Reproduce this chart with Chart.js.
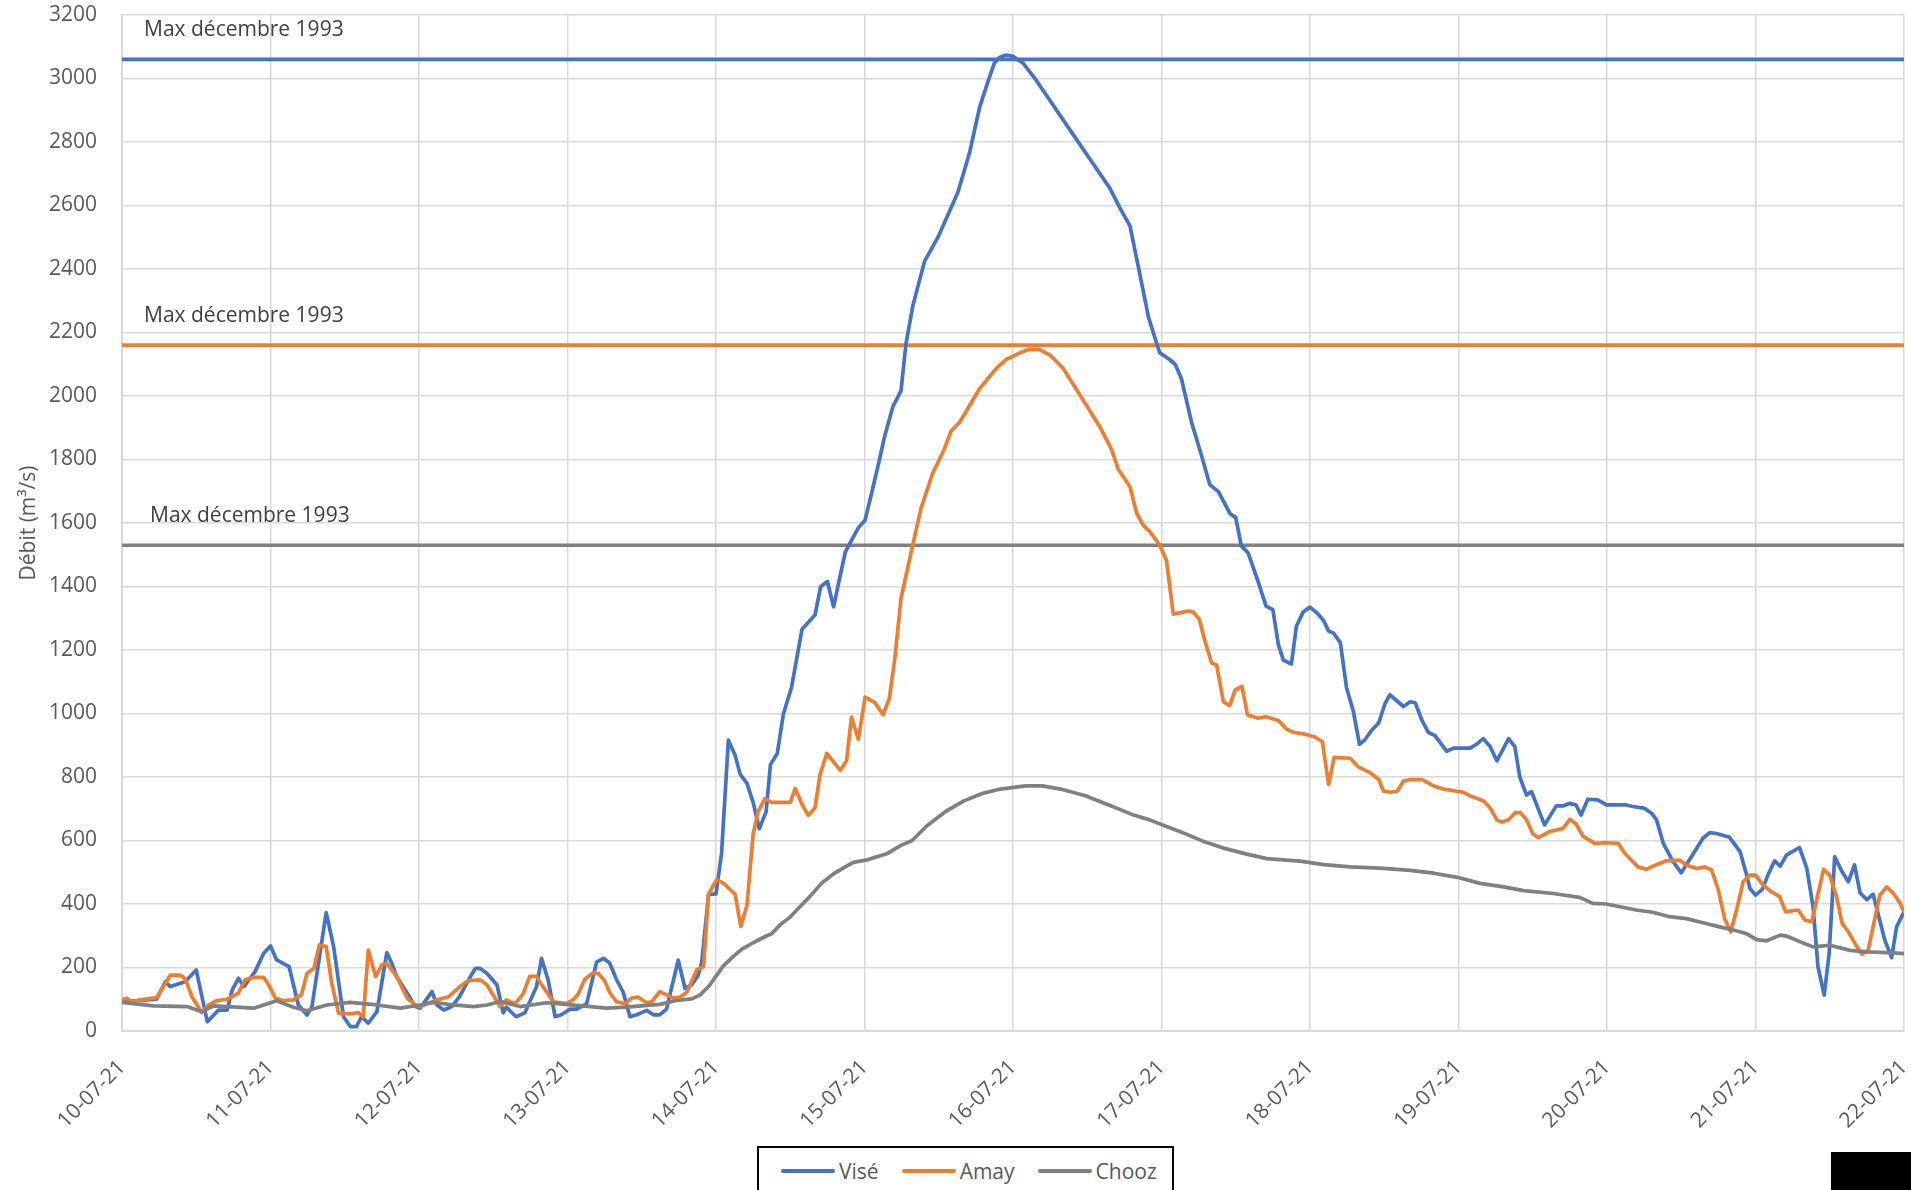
<!DOCTYPE html>
<html lang="fr">
<head>
<meta charset="utf-8">
<title>Débits de la Meuse - juillet 2021</title>
<script src="https://cdn.jsdelivr.net/npm/chart.js@4.4.0/dist/chart.umd.min.js"></script>
<style>
  html, body { margin: 0; padding: 0; background: #fff; overflow: hidden; }
  #wrap { position: relative; width: 1911px; height: 1190px; }
  #legend {
    position: absolute; left: 757px; top: 1146px; width: 417px; height: 70px;
    border: 2px solid #000; box-sizing: border-box; background: #fff;
    display: flex; padding: 8px 0 0 22px; gap: 23px;
    font: 21px "Open Sans", sans-serif; color: #595959;
  }
  .item { display: flex; align-items: center; height: 30px; }
  .swatch { width: 54px; height: 4px; border-radius: 2px; margin-right: 4px; }
  #mask { position: absolute; left: 1831px; top: 1152px; width: 80px; height: 38px; background: #000; }
</style>
</head>
<body>
<div id="wrap">
  <canvas id="chart"></canvas>
  <div id="legend"></div>
  <div id="mask"></div>
</div>
<script>
// x en heures depuis le 10-07-21 00h
const dayLabels = ["10-07-21", "11-07-21", "12-07-21", "13-07-21", "14-07-21", "15-07-21", "16-07-21",
  "17-07-21", "18-07-21", "19-07-21", "20-07-21", "21-07-21", "22-07-21"];

const seriesNames = ["Visé", "Amay", "Chooz"];
const seriesColors = ["#4472C4", "#ED7D31", "#808080"];

// maxima de décembre 1993
const maxLevels = [3060, 2160, 1530];
const maxLabel = "Max décembre 1993";

const viseHours = [
  0, 5.6, 7, 7.8, 10.2, 12, 13.8, 15.6, 17, 17.8, 18.8, 19.7, 21.5, 22.9, 24,
  25, 27, 28.5, 29.9, 30.7, 33, 34.2, 35.8, 36.9, 37.9, 38.7, 39.8, 41.2, 42.8, 43.6, 44.4, 46.1, 47.4,
  48.2, 50.1, 50.9, 52, 53.3, 54.6, 56, 57.1, 57.9, 59, 60.6, 61.6, 62.1, 63.7, 65.1, 67, 67.8, 68.9, 70, 71,
  72.4, 73.5, 75.1, 76.7, 77.8, 78.8, 79.9, 81, 82.1, 83.2, 84.8, 85.9, 86.9, 88, 89.9, 91, 92.1, 93.1, 93.7, 94.8,
  96, 96.9, 98, 99.1, 99.9, 101, 102, 103, 104.1, 104.8, 105.9, 106.9, 108.2, 109.9, 111, 112, 112.9, 114, 115, 116.1, 116.9, 117.7, 119,
  120.1, 121.2, 122.4, 123.2, 124.6, 125.9, 126.7, 127.8, 129.7, 131.9, 135.1, 137, 138.6, 140, 141, 141.8, 142.9,
  144, 145.6, 147.8, 150.5, 153.7, 156.9, 159.6, 161.3, 162.9, 164.3, 165.9, 167.7,
  169.3, 170.2, 171.2, 172.9, 174.5, 175.8, 177.2, 178, 179.1, 180, 180.9, 182, 183.6, 184.9, 186, 186.9, 187.7, 189, 189.8, 190.9,
  192, 193.1, 194.2, 195, 195.8, 196.9, 197.9, 199, 200, 200.9, 202, 203.1, 204.1, 204.9, 207.1, 208.2, 209, 210.1, 211.1, 212.2, 214.1, 215.2,
  217.9, 218.9, 220, 221.1, 222.2, 223.2, 224.1, 225.1, 225.9, 227, 227.8, 229.9, 231.8, 232.9, 234, 235, 235.8, 236.9, 238.5,
  239.9, 243.1, 244.2, 246.1, 247.2, 248, 249.1, 250.7, 252, 253.9, 255.5, 256.6, 257.7, 259.8, 261.5, 262.5,
  263.1, 264, 265.1, 266, 267.1, 268, 269, 271.1, 272.3, 273.3, 274.1, 275.1, 275.9, 276.8, 277.9, 279, 280, 280.9, 282, 283, 284.9, 286, 286.8, 288
];
const viseValues = [
  92, 100, 155, 140, 155, 192, 29, 66, 66, 129, 166, 140, 187, 245, 268,
  224, 203, 82, 50, 77, 373, 266, 45, 14, 14, 45, 25, 61, 247, 213, 171, 119, 77,
  72, 124, 82, 66, 77, 110, 161, 197, 197, 181, 145, 57, 75, 45, 57, 140, 229, 158, 45, 51,
  69, 69, 86, 217, 229, 214, 163, 122, 45, 51, 65, 51, 51, 69, 223, 134, 146, 175, 217, 430,
  432, 560, 916, 868, 809, 780, 720, 637, 691, 839, 874, 999, 1082, 1265, 1289, 1310, 1399, 1416, 1336, 1437, 1508, 1538, 1585,
  1609, 1698, 1798, 1869, 1967, 2016, 2164, 2283, 2424, 2501, 2642, 2768, 2909, 2993, 3049, 3066, 3074,
  3070, 3049, 2993, 2916, 2824, 2733, 2656, 2592, 2536, 2403, 2248, 2136,
  2115, 2100, 2056, 1914, 1810, 1721, 1699, 1669, 1629, 1617, 1528, 1506, 1416, 1338, 1327, 1216, 1168, 1156, 1275, 1320,
  1335, 1317, 1293, 1260, 1253, 1223, 1082, 1007, 903, 918, 948, 970, 1030, 1059, 1022, 1037, 1034, 978, 941, 930, 881, 891,
  891, 903, 921, 896, 851, 888, 921, 896, 800, 743, 754, 649, 709, 709, 717, 712, 680, 730, 728,
  712, 712, 707, 701, 686, 665, 591, 533, 498, 557, 607, 625, 622, 610, 565, 496,
  449, 428, 446, 491, 536, 519, 554, 578, 512, 391, 202, 113, 244, 549, 505, 470, 523, 435, 414, 431, 286, 231, 328, 375
];

const amayHours = [
  0, 0.8, 1.6, 3, 5.6, 7.8, 9.4, 10.2, 11.3, 12.9, 14, 15.4, 17, 18.8, 19.9, 21.3, 22.9, 23.7,
  24.8, 26.1, 27.7, 29, 29.9, 31, 31.9, 33, 33.9, 35, 36.9, 38.2, 39, 39.8, 41, 42, 42.8, 44.4, 46.1, 47.4,
  48.2, 50.9, 52.8, 54.6, 56, 57.9, 59, 61.1, 62.1, 63.5, 64.8, 65.9, 67, 67.8, 69.7, 71.8,
  72.9, 73.7, 74.8, 76.2, 77, 78, 78.8, 79.9, 81.3, 82.4, 83.4, 84.8, 85.6, 86.9, 89.1, 90.2, 91.3, 92.9, 94, 94.8,
  96.1, 97.2, 99.1, 100, 101, 102, 102.8, 103.9, 105, 108, 108.8, 109.9, 110.9, 112, 112.8, 113.9, 116.1, 117.1, 117.9, 119,
  120.1, 121.7, 123, 124, 124.9, 125.9, 127.8, 129.1, 131, 132.9, 134, 135.4, 138.6, 141.3, 142.9,
  145.1, 146.7, 148.3, 150, 152.1, 155.3, 158, 159.9, 161, 162.9, 164, 165, 166.1, 167.7,
  168.8, 169.9, 170.9, 172.3, 173.1, 174.1, 175, 176.1, 176.9, 178, 179, 179.9, 181, 181.9, 183.6, 184.9, 186.9, 188.2, 189.3, 190.9,
  192.8, 194, 195, 195.9, 198.5, 199.8, 201.7, 203.1, 203.9, 205, 206.1, 207.1, 208.2, 210.1, 212, 213.6,
  215.8, 216.8, 217.9, 220, 221.1, 222.2, 223, 224.1, 225.2, 226, 227, 228, 228.9, 230.7, 232.9, 234, 235, 236.1, 238,
  239.9, 241.8, 242.9, 245, 246.4, 247.4, 249.6, 251.8, 252.8, 254.5, 255.8, 256.9, 258, 259, 260, 261, 262,
  263.1, 264, 265, 266.3, 267.9, 268.9, 270.1, 270.9, 272, 273.1, 275, 276, 277.1, 278, 279, 280.1, 281.2, 282.2, 283, 284.1, 285.2, 286.3, 287.4, 288
];
const amayValues = [
  98, 103, 92, 98, 105, 176, 176, 165, 108, 58, 82, 96, 100, 119, 161, 169, 169, 145,
  103, 96, 98, 114, 182, 197, 271, 266, 150, 56, 54, 58, 45, 255, 171, 208, 213, 171, 103, 82,
  77, 98, 108, 140, 159, 161, 145, 77, 98, 86, 116, 172, 172, 146, 92, 86,
  98, 116, 163, 184, 181, 158, 122, 92, 86, 104, 107, 89, 92, 124, 104, 107, 122, 193, 203, 432,
  477, 466, 430, 329, 395, 620, 691, 732, 720, 720, 764, 714, 679, 703, 807, 874, 821, 851, 989, 918,
  1052, 1034, 996, 1046, 1173, 1363, 1531, 1644, 1756, 1833, 1890, 1918, 2023, 2087, 2115,
  2136, 2147, 2146, 2129, 2087, 1988, 1904, 1833, 1770, 1714, 1630, 1594, 1573, 1531,
  1482, 1313, 1317, 1323, 1320, 1297, 1230, 1159, 1153, 1037, 1025, 1074, 1085, 996, 985, 990, 978, 951, 941, 936,
  926, 911, 777, 862, 859, 832, 814, 792, 755, 752, 755, 787, 792, 792, 772, 762,
  755, 752, 740, 725, 703, 665, 658, 665, 688, 688, 665, 621, 609, 628, 638, 667, 652, 614, 591,
  593, 591, 559, 517, 509, 519, 536, 538, 523, 512, 517, 507, 444, 354, 312, 386, 470,
  491, 491, 465, 442, 423, 375, 379, 381, 349, 344, 509, 491, 423, 339, 312, 275, 242, 254, 328, 428, 454, 433, 402, 375
];

const choozHours = [
  0, 5.1, 10.5, 12.9, 14.8, 21.3, 25, 27.7, 29.9, 33.1, 36.9, 41.2, 45, 48.2, 50.4, 53.6, 56.8, 59, 61.1, 64.3, 68.6,
  73.5, 78.3, 81.5, 86.9, 89.6, 92.1, 93.4, 94.8, 96.1, 97.2, 98.8, 100.2, 102, 104.2, 105, 106.4, 108, 109.6, 111.2,
  113.1, 115, 117.1, 118.2, 120.4, 123.6, 125.8, 127.7, 130, 133, 136, 139, 142, 146, 148.8, 151.7, 155.7, 159.6, 163.5,
  166.1, 168.3, 171.5, 174.7, 178, 181.8, 185, 190.4, 194.2, 198.5, 203.9, 208.2, 212, 215.8, 219.5, 223.3, 226.5,
  231.3, 235.6, 237.7, 239.9, 244.7, 247.4, 250.1, 252.8, 254.9, 258.2, 260.4, 262.5, 264.2, 265.8, 268, 269, 271.2,
  273.3, 276, 279.3, 282, 286.3, 288
];
const choozValues = [
  90, 79, 77, 61, 79, 72, 95, 75, 64, 82, 90, 82, 72, 82, 90, 82, 77, 82, 93, 77, 89,
  81, 72, 75, 84, 96, 101, 113, 140, 175, 205, 235, 258, 278, 300, 306, 335, 359, 392, 424,
  466, 495, 519, 531, 539, 558, 584, 600, 645, 690, 724, 748, 762, 772, 772, 762, 741, 711, 680,
  665, 648, 624, 598, 576, 557, 543, 535, 524, 517, 512, 506, 497, 484, 465, 454, 442,
  433, 421, 402, 400, 381, 374, 360, 354, 344, 328, 318, 307, 288, 284, 302, 299, 281,
  265, 270, 254, 249, 246, 244
];

const FONT = '"Open Sans", sans-serif';

function toPoints(hours, values) {
  return hours.map((h, i) => ({ x: h, y: values[i] }));
}

const seriesData = [
  toPoints(viseHours, viseValues),
  toPoints(amayHours, amayValues),
  toPoints(choozHours, choozValues)
];

const datasets = [];
seriesNames.forEach((name, i) => {
  datasets.push({
    label: name,
    data: seriesData[i],
    borderColor: seriesColors[i],
    borderWidth: 3.7,
    pointRadius: 0,
    tension: 0,
    borderJoinStyle: 'round',
    borderCapStyle: 'round',
    order: 3 - i
  });
});
// lignes horizontales des maxima
maxLevels.forEach((lvl, i) => {
  datasets.push({
    label: maxLabel,
    data: [{ x: 0, y: lvl }, { x: 288, y: lvl }],
    borderColor: seriesColors[i],
    borderWidth: 3.7,
    pointRadius: 0,
    order: 4 + i
  });
});

// texte au-dessus de chaque ligne de maximum
const maxTextPlugin = {
  id: 'maxText',
  afterDatasetsDraw(chart) {
    const { ctx, chartArea, scales } = chart;
    const offsets = [22, 22, 28];
    ctx.save();
    ctx.font = '21px ' + FONT;
    ctx.fillStyle = '#404040';
    ctx.textBaseline = 'middle';
    maxLevels.forEach((lvl, i) => {
      const y = scales.y.getPixelForValue(lvl);
      ctx.fillText(maxLabel, chartArea.left + offsets[i], y - 29);
    });
    ctx.restore();
  }
};

const canvas = document.getElementById('chart');
canvas.width = 1911;
canvas.height = 1190;

const chart = new Chart(canvas.getContext('2d'), {
  type: 'line',
  data: { datasets },
  plugins: [maxTextPlugin],
  options: {
    responsive: false,
    animation: false,
    devicePixelRatio: 1,
    layout: { padding: { top: 15, right: 7, left: 0, bottom: 0 } },
    plugins: {
      legend: { display: false },
      tooltip: { enabled: false }
    },
    scales: {
      x: {
        type: 'linear',
        min: 0,
        max: 288,
        afterFit: (s) => { s.height = 159; s.paddingLeft = 0; s.paddingRight = 0; },
        grid: { color: '#d9d9d9', lineWidth: 1.5, drawTicks: false },
        border: { color: '#d9d9d9', width: 2 },
        ticks: {
          stepSize: 24,
          autoSkip: false,
          minRotation: 45,
          maxRotation: 45,
          padding: 24,
          color: '#595959',
          font: { family: FONT, size: 21 },
          callback: (v) => dayLabels[v / 24]
        }
      },
      y: {
        min: 0,
        max: 3200,
        afterFit: (s) => { s.width = 122; s.paddingTop = 0; s.paddingBottom = 0; },
        grid: { color: '#d9d9d9', lineWidth: 1.5, drawTicks: false },
        border: { color: '#d9d9d9', width: 2 },
        ticks: {
          stepSize: 200,
          padding: 25,
          color: '#595959',
          font: { family: FONT, size: 21 },
          callback: (v) => String(v)
        },
        title: {
          display: true,
          text: 'Débit (m³/s)',
          color: '#595959',
          padding: { top: 16, bottom: 0 },
          font: { family: FONT, size: 21 }
        }
      }
    }
  }
});

// légende dans un cadre noir, comme dans Excel
const legend = document.getElementById('legend');
seriesNames.forEach((name, i) => {
  const item = document.createElement('div');
  item.className = 'item';
  const sw = document.createElement('div');
  sw.className = 'swatch';
  sw.style.background = seriesColors[i];
  const txt = document.createElement('span');
  txt.textContent = name;
  item.appendChild(sw);
  item.appendChild(txt);
  legend.appendChild(item);
});
</script>
</body>
</html>
